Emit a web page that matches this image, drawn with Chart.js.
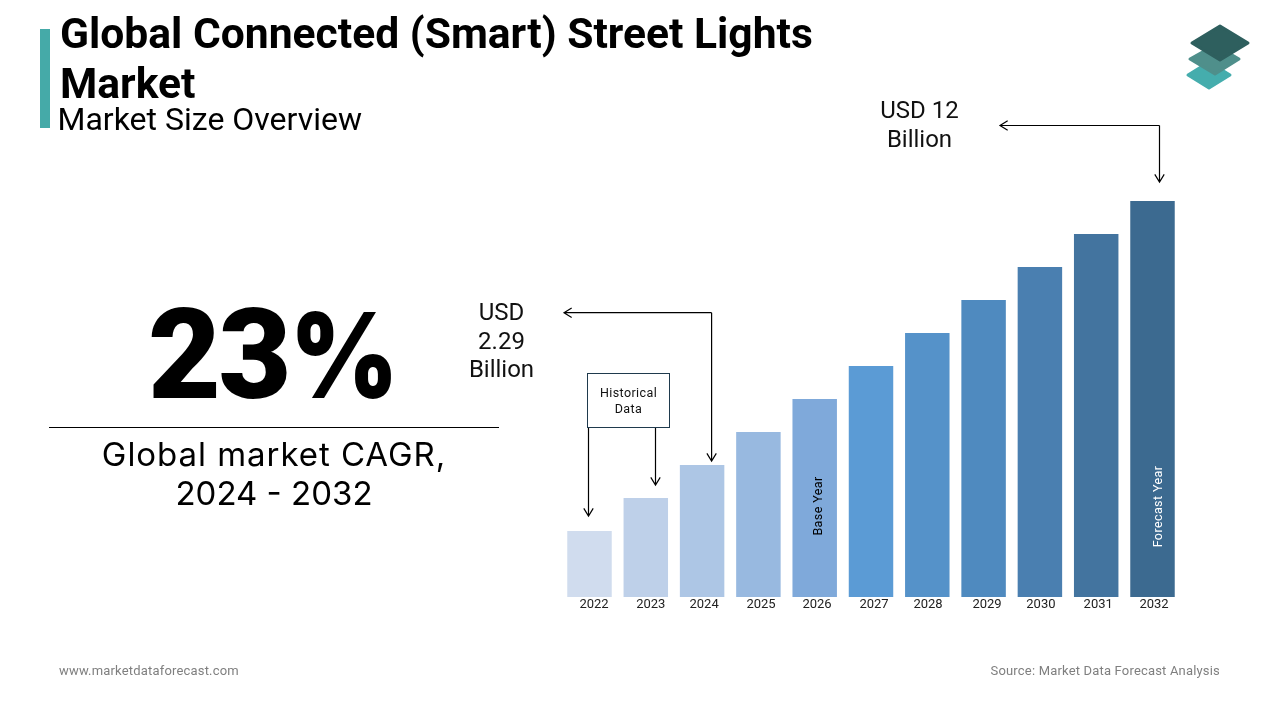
<!DOCTYPE html>
<html>
<head>
<meta charset="utf-8">
<title>Global Connected (Smart) Street Lights Market</title>
<script src="https://cdn.jsdelivr.net/npm/chart.js@4"></script>
<style>
    html, body { margin: 0; padding: 0; background: #fff; }
    #page { position: relative; width: 1280px; height: 720px; overflow: hidden; font-family: Roboto, sans-serif; color: #000; }
    #page div { position: absolute; white-space: nowrap; }
    #chart { position: absolute; left: 0; top: 0; }
    #logo { position: absolute; left: 1180px; top: 20px; }
    .accent { left: 40px; top: 29px; width: 10px; height: 99px; background: #45aaa8; }
    .title { left: 60px; top: 8px; font-size: 42.6px; font-weight: 700; line-height: 50px; }
    .subtitle { left: 57.5px; top: 100px; font-size: 32px; line-height: 38px; }
    .big { left: 148px; top: 280px; font-size: 126px; font-weight: 900; letter-spacing: -2.5px; line-height: 150px; }
    .pct { left: 290px; top: 280px; font-family: Inter, sans-serif; font-size: 118px; font-weight: 900; line-height: 150px; transform: scaleX(.88); transform-origin: left center; }
    .rule { left: 49px; top: 427px; width: 450px; height: 1px; background: #000; }
    .cagr { left: 49px; width: 450px; top: 435px; text-align: center; font-family: Inter, sans-serif; font-size: 33px; line-height: 39px; }
    .cagr span { letter-spacing: .95px; }
    .foot { top: 663px; font-size: 13px; line-height: 16px; color: #7f7f7f; letter-spacing: .18px; }
</style>
</head>
<body>
<div id="page">
    <canvas id="chart" width="1280" height="720"></canvas>
    <svg id="logo" width="80" height="80" viewBox="1180 20 80 80">
        <g stroke-linejoin="round" stroke-width="3">
            <polygon points="1188,75 1209,62 1230,75 1209,88" fill="#45adad" stroke="#45adad"/>
            <polygon points="1190,59 1215,45 1239,59 1215,74" fill="#4f8f8b" stroke="#4f8f8b"/>
            <polygon points="1192,43 1220,26 1248,43 1220,60" fill="#2e5f5e" stroke="#2e5f5e"/>
        </g>
    </svg>
    <div class="accent"></div>
    <div class="title">Global Connected (Smart) Street Lights<br>Market</div>
    <div class="subtitle">Market Size Overview</div>
    <div class="big">23</div>
    <div class="pct">%</div>
    <div class="rule"></div>
    <div class="cagr"><span>Global market CAGR,</span><br>2024 - 2032</div>
    <div class="foot" style="left:59px">www.marketdataforecast.com</div>
    <div class="foot" style="right:60px">Source: Market Data Forecast Analysis</div>
</div>
<script>
const years = ['2022', '2023', '2024', '2025', '2026', '2027', '2028', '2029', '2030', '2031', '2032'];
const marketSize = [2, 3, 4, 5, 6, 7, 8, 9, 10, 11, 12];
const barColors = ['#d0dcee', '#bed0e9', '#adc6e5', '#98b9e0', '#7fa9da', '#5b9bd5', '#5592c9', '#4f8abf', '#4a7fb0', '#43749f', '#3c6a90'];
// en el original las etiquetas del eje no quedan centradas igual en cada barra
const tickNudge = [4.5, 5, 2, 2.6, 2.3, 3, 0.7, 3.4, 1, 2, 1.5];

// flecha simple con punta abierta
function drawArrow(ctx, points) {
    const n = points.length;
    const [x1, y1] = points[n - 2];
    const [x2, y2] = points[n - 1];
    const a = Math.atan2(y2 - y1, x2 - x1);
    ctx.beginPath();
    ctx.moveTo(points[0][0], points[0][1]);
    points.slice(1).forEach(p => ctx.lineTo(p[0], p[1]));
    ctx.moveTo(x2 - 9 * Math.cos(a - 0.55), y2 - 9 * Math.sin(a - 0.55));
    ctx.lineTo(x2, y2);
    ctx.lineTo(x2 - 9 * Math.cos(a + 0.55), y2 - 9 * Math.sin(a + 0.55));
    ctx.stroke();
}

function drawLines(ctx, lines, x, y, lineHeight) {
    lines.forEach((t, i) => ctx.fillText(t, x, y + i * lineHeight));
}

// mueve cada etiqueta del eje x antes de que Chart.js la pinte
const tickNudgePlugin = {
    id: 'tickNudge',
    beforeDraw(chart) {
        const sx = chart.scales.x;
        sx._labelItems = sx._computeLabelItems(chart.chartArea);
        sx._labelItems.forEach((item, i) => { item.options.translation[0] += tickNudge[i]; });
    }
};

// notas sobre las barras, ancladas a las escalas
const calloutPlugin = {
    id: 'callouts',
    afterDraw(chart) {
        const ctx = chart.ctx;
        const sx = chart.scales.x;
        const sy = chart.scales.y;
        const barX = i => sx.getPixelForValue(i);
        const barTop = i => sy.getPixelForValue(marketSize[i]);

        ctx.save();
        ctx.strokeStyle = '#000';
        ctx.lineWidth = 1.2;
        drawArrow(ctx, [[barX(2) + 9.5, 312.7], [barX(2) + 9.5, barTop(2) - 4]]);
        drawArrow(ctx, [[barX(2) + 9.5, 312.7], [564, 312.7]]);
        drawArrow(ctx, [[barX(10) + 7, 125.5], [barX(10) + 7, barTop(10) - 19]]);
        drawArrow(ctx, [[barX(10) + 7, 125.5], [1000, 125.5]]);
        drawArrow(ctx, [[588.5, 427], [588.5, barTop(0) - 15]]);
        drawArrow(ctx, [[655.5, 427], [655.5, barTop(1) - 13]]);

        ctx.lineWidth = 1;
        ctx.strokeStyle = '#1f3a4d';
        ctx.strokeRect(587.5, 373.5, 82, 54);

        ctx.fillStyle = '#111';
        ctx.textAlign = 'center';
        ctx.textBaseline = 'alphabetic';
        ctx.font = '12.5px Roboto';
        ctx.letterSpacing = '0.4px';
        drawLines(ctx, ['Historical', 'Data'], 628.5, 397, 16);
        ctx.letterSpacing = '0px';
        ctx.font = '24px Roboto';
        drawLines(ctx, ['USD', '2.29', 'Billion'], 501.5, 320, 28.5);
        drawLines(ctx, ['USD 12', 'Billion'], 919.5, 118, 29);

        ctx.font = '12.5px Roboto';
        ctx.letterSpacing = '0.4px';
        ctx.save();
        ctx.translate(barX(4) + 7, 506);
        ctx.rotate(-Math.PI / 2);
        ctx.fillStyle = '#000';
        ctx.fillText('Base Year', 0, 0);
        ctx.restore();
        ctx.save();
        ctx.translate(barX(10) + 9, 506.5);
        ctx.rotate(-Math.PI / 2);
        ctx.fillStyle = '#fff';
        ctx.fillText('Forecast Year', 0, 0);
        ctx.restore();
        ctx.restore();
    }
};

new Chart(document.getElementById('chart').getContext('2d'), {
    type: 'bar',
    data: {
        labels: years,
        datasets: [{
            data: marketSize,
            backgroundColor: barColors,
            barPercentage: 0.79,
            categoryPercentage: 1,
            borderWidth: 0
        }]
    },
    options: {
        responsive: false,
        animation: false,
        layout: { padding: { left: 561.35, right: 99.35, top: 201, bottom: 0 } },
        plugins: { legend: { display: false }, tooltip: { enabled: false } },
        scales: {
            x: {
                grid: { display: false },
                border: { display: false },
                afterFit: scale => { scale.height = 123; },
                ticks: {
                    color: '#222',
                    font: { family: 'Roboto', size: 13 },
                    padding: -8,
                    maxRotation: 0,
                    autoSkip: false
                }
            },
            y: { display: false, min: 0, max: 12 }
        }
    },
    plugins: [tickNudgePlugin, calloutPlugin]
});
</script>
</body>
</html>
